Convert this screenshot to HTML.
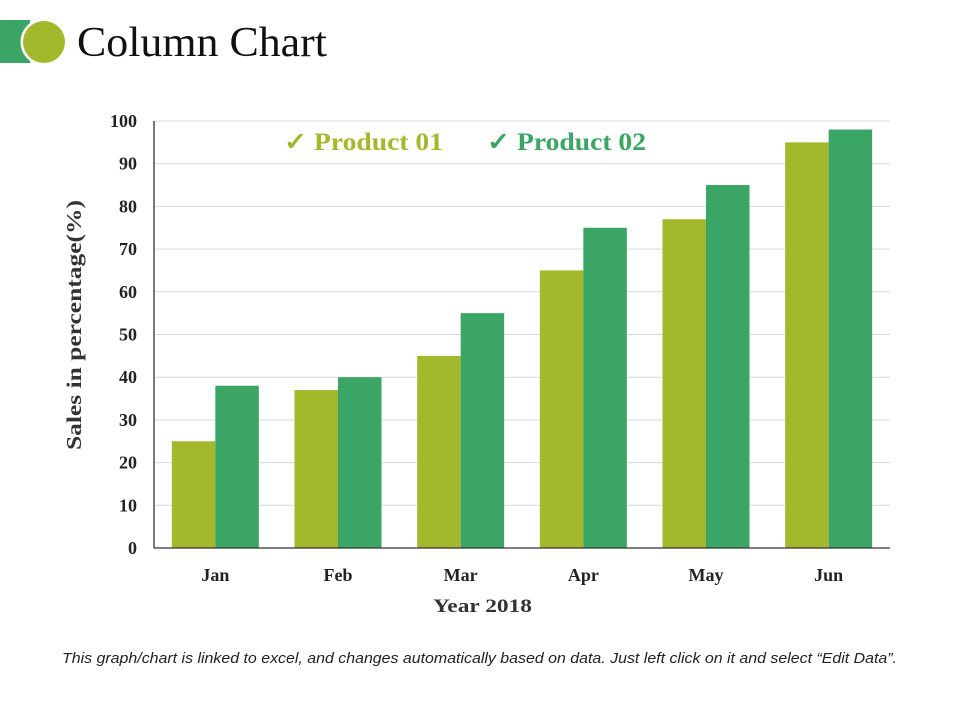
<!DOCTYPE html>
<html><head><meta charset="utf-8"><style>
body{margin:0;background:#fff;width:960px;height:720px;overflow:hidden;position:relative;font-family:"Liberation Serif",serif}
</style></head><body>
<svg width="960" height="720" style="position:absolute;left:0;top:0">
<rect x="0" y="20" width="30" height="43" fill="#3aa564"/>
<circle cx="44" cy="42" r="23.5" fill="#fff"/>
<circle cx="44" cy="42" r="21" fill="#a4b82c"/>
<text x="77" y="56" font-size="42" fill="#111" textLength="250" lengthAdjust="spacingAndGlyphs">Column Chart</text>
<g id="grid"></g><g id="bars"></g><g id="labels"></g>
<text transform="translate(81,325) rotate(-90)" text-anchor="middle" font-weight="bold" font-size="21" fill="#333" textLength="250" lengthAdjust="spacingAndGlyphs">Sales in percentage(%)</text>
<text x="433" y="612" font-weight="bold" font-size="19" fill="#333" textLength="99" lengthAdjust="spacingAndGlyphs">Year 2018</text>
<g><text x="284" y="150" font-weight="bold" font-size="25" fill="#a4b82c" textLength="159" lengthAdjust="spacingAndGlyphs">✓ Product 01</text></g>
<g><text x="487" y="150" font-weight="bold" font-size="25" fill="#3aa564" textLength="159" lengthAdjust="spacingAndGlyphs">✓ Product 02</text></g>
<text x="62" y="663" font-family="Liberation Sans, sans-serif" font-style="italic" font-size="14.5" fill="#222" textLength="835" lengthAdjust="spacingAndGlyphs">This graph/chart is linked to excel, and changes automatically based on data. Just left click on it and select “Edit Data”.</text>
</svg>
<script>
const categories=["Jan","Feb","Mar","Apr","May","Jun"];
const product01=[25,37,45,65,77,95];
const product02=[38,40,55,75,85,98];
const yTicks=[0,10,20,30,40,50,60,70,80,90,100];
const NS="http://www.w3.org/2000/svg";
const X0=154,X1=890,Y0=548,Y1=121;
const y=v=>Y0-(v/100)*(Y0-Y1);
const band=(X1-X0)/categories.length;
const xc=i=>X0+band*(i+0.5);
const bw=43.5;
function mk(t,a,p){const e=document.createElementNS(NS,t);for(const k in a)e.setAttribute(k,a[k]);p.appendChild(e);return e;}
const g=document.getElementById('grid'),b=document.getElementById('bars'),l=document.getElementById('labels');
yTicks.forEach(v=>{
 if(v>0){const ln=mk('line',{x1:X0,x2:X1,y1:y(v),y2:y(v),stroke:'#d9d9d9','stroke-width':1},g);
 
 }
 const t=mk('text',{x:137,y:y(v)+6,'text-anchor':'end','font-weight':'bold','font-size':18,fill:'#222'},l);
 t.textContent=v;
 
 
});
categories.forEach((c,i)=>{
 const r1=mk('rect',{x:xc(i)-bw,y:y(product01[i]),width:bw,height:Y0-y(product01[i]),fill:'#a4b82c'},b);
 
 
 const r2=mk('rect',{x:xc(i),y:y(product02[i]),width:bw,height:Y0-y(product02[i]),fill:'#3aa564'},b);
 
 
 const t=mk('text',{x:xc(i),y:581,'text-anchor':'middle','font-weight':'bold','font-size':18,fill:'#222'},l);
 t.textContent=c;
 
 
});
const ax=mk('line',{x1:X0,x2:X0,y1:Y1,y2:Y0,stroke:'#333','stroke-width':1.3},l);


const bx=mk('line',{x1:X0,x2:X1,y1:Y0,y2:Y0,stroke:'#333','stroke-width':1.3},l);


</script>
</body></html>
